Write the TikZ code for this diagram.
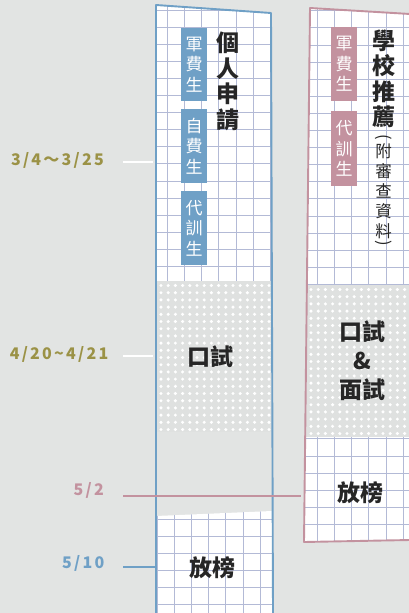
\documentclass[tikz,border=0pt]{standalone}
\usepackage{fontspec}
\setmainfont{Noto Sans CJK TC}
\definecolor{bgc}{HTML}{E2E4E3}
\definecolor{dotbg}{HTML}{DFE1E0}
\definecolor{bluec}{HTML}{6FA0C6}
\definecolor{pinkc}{HTML}{C3929F}
\definecolor{gridc}{HTML}{B3BAD6}
\definecolor{olivec}{HTML}{9B9246}
\definecolor{darkc}{HTML}{262626}
\tikzset{
  gridline/.style={draw=gridc, line width=0.9pt},
  dotfill/.style={fill=white},
  bluebord/.style={draw=bluec, line width=1.9pt, line join=round},
  pinkbord/.style={draw=pinkc, line width=1.9pt, line join=round},
  bluetag/.style={fill=bluec, text=white, minimum width=26pt, inner sep=0pt, align=center, font=\fontsize{17}{20.5}\selectfont},
  pinktag/.style={fill=pinkc, text=white, minimum width=26pt, inner sep=0pt, align=center, font=\fontsize{17}{20.5}\selectfont},
  vtitle/.style={text=darkc, inner sep=0pt, align=center, font=\fontsize{23}{25.5}\selectfont\bfseries},
  vsub/.style={text=darkc, inner sep=0pt, align=center, font=\fontsize{16.5}{20}\selectfont},
  paren/.style={text=darkc, inner sep=0pt, rotate=-90, font=\fontsize{16.5}{20}\selectfont},
  stage/.style={text=darkc, inner sep=0pt, align=center, font=\fontsize{23}{29}\selectfont\bfseries},
  datelab/.style={anchor=east, inner sep=0pt, font=\fontsize{16}{16}\selectfont\bfseries\addfontfeature{LetterSpace=14}},
  tick/.style={line width=2pt}
}
\begin{document}
\begin{tikzpicture}[x=1pt,y=-1pt]
\useasboundingbox (0,0) rectangle (409,613);
\fill[bgc] (0,0) rectangle (409,613);

% ---------- left column ----------
\begin{scope}
  \clip (156,5) -- (271,13) -- (272,281) -- (156,281) -- cycle;
  \fill[white] (150,0) rectangle (280,290);
  \foreach \k in {-1,...,7} \draw[gridline] ({167.3+17.2*\k},0) -- ({167.3+17.2*\k},290);
  \foreach \k in {0,...,16} \draw[gridline] (150,{10+17.1*\k}) -- (280,{10+17.1*\k});
\end{scope}
\begin{scope}
  \clip (156,281) rectangle (272,431);
  \fill[dotbg] (150,275) rectangle (280,435);
  \foreach \i in {0,...,15} \foreach \j in {0,...,20}
    \fill[dotfill] ({161+7.2*\i},{285.5+7.2*\j}) circle (1.7pt);
\end{scope}
\begin{scope}
  \clip (156,516) -- (272,511) -- (273,613) -- (156,613) -- cycle;
  \fill[white] (150,505) rectangle (280,613);
  \foreach \k in {0,...,7} \draw[gridline] ({157.1+17.2*\k},505) -- ({157.1+17.2*\k},613);
  \foreach \k in {0,...,6} \draw[gridline] (150,{519.3+17*\k}) -- (280,{519.3+17*\k});
\end{scope}
\draw[bluebord] (156,614) -- (156,5) -- (271,13) -- (273,614);

% ---------- right column ----------
\begin{scope}
  \clip (310,8) -- (410,14) -- (410,285) -- (306.5,285) -- cycle;
  \fill[white] (300,0) rectangle (410,290);
  \foreach \k in {-1,...,6} \draw[gridline] ({317.3+17.2*\k},0) -- ({317.3+17.2*\k},290);
  \foreach \k in {0,...,16} \draw[gridline] (300,{10.8+17.1*\k}) -- (410,{10.8+17.1*\k});
\end{scope}
\begin{scope}
  \clip (306.5,285) rectangle (410,437);
  \fill[dotbg] (300,280) rectangle (410,440);
  \foreach \i in {0,...,14} \foreach \j in {0,...,20}
    \fill[dotfill] ({311+7.2*\i},{289.5+7.2*\j}) circle (1.7pt);
\end{scope}
\begin{scope}
  \clip (305.3,437) -- (410,437) -- (410,540) -- (304,542) -- cycle;
  \fill[white] (300,430) rectangle (410,545);
  \foreach \k in {-1,...,6} \draw[gridline] ({317.3+17.2*\k},430) -- ({317.3+17.2*\k},545);
  \foreach \k in {0,...,6} \draw[gridline] (300,{438.8+17.2*\k}) -- (410,{438.8+17.2*\k});
\end{scope}
\draw[pinkbord] (410,14) -- (310,8) -- (304,542) -- (410,540);

% ---------- tags and titles ----------
\node[bluetag, minimum height=73pt] (t1) at (194,64.5) {軍\\費\\生};
\node[bluetag, minimum height=74pt] (t2) at (194,146) {自\\費\\生};
\node[bluetag, minimum height=74pt] (t3) at (194,228) {代\\訓\\生};
\node[vtitle] (ttl1) at (228,81.5) {個\\人\\申\\請};

\node[pinktag, minimum height=74pt] (p1) at (344,64) {軍\\費\\生};
\node[pinktag, minimum height=75pt] (p2) at (344,148.5) {代\\訓\\生};
\node[vtitle] (ttl2) at (383.5,79) {學\\校\\推\\薦};
\node[paren] (po) at (383.5,137) {(};
\node[vsub] (sub2) at (383.5,191) {附\\審\\查\\資\\料};
\node[paren] (pc) at (383.5,243) {)};

% ---------- stages ----------
\node[stage] (s1) at (210.5,357) {口試};
\node[stage] (s2) at (362,361) {口試\\\&\\面試};
\node[stage] (s3) at (360.5,493) {放榜};
\node[stage] (s4) at (212.5,567.5) {放榜};

% ---------- dates ----------
\coordinate (d1a) at (123,162); \coordinate (d1b) at (153,162);
\coordinate (d2a) at (123,356); \coordinate (d2b) at (153,356);
\coordinate (d3a) at (123,496); \coordinate (d3b) at (301,496);
\coordinate (d4a) at (123,567); \coordinate (d4b) at (156,567);
\draw[tick, white] (d1a) -- (d1b);
\draw[tick, white] (d2a) -- (d2b);
\draw[tick, pinkc] (d3a) -- (d3b);
\draw[tick, bluec] (d4a) -- (d4b);
\node[datelab, text=olivec] (l1) at (104,160) {3/4～3/25};
\node[datelab, text=olivec] (l2) at (108.5,354.5) {4/20{\char`\~}4/21};
\node[datelab, text=pinkc] (l3) at (104,490) {5/2};
\node[datelab, text=bluec] (l4) at (104.5,563.5) {5/10};
\end{tikzpicture}
\end{document}
